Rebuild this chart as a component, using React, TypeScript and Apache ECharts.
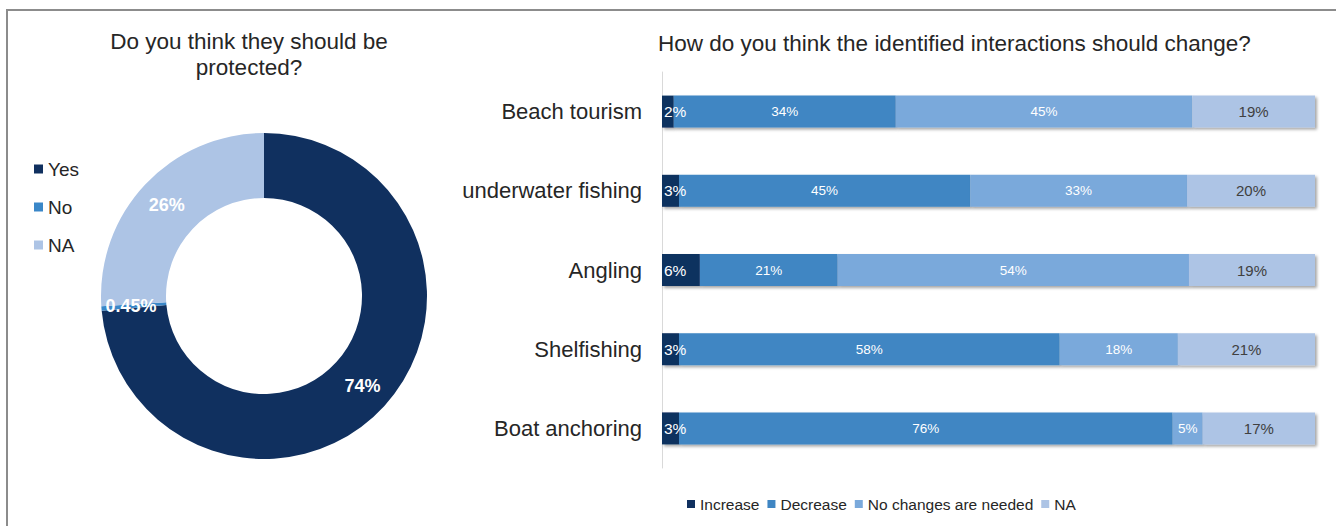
import React, { useEffect, useRef } from "react";
import * as echarts from "echarts";

const pieNames = ["Yes", "No", "NA"];
const pieValues = [73.55, 0.45, 26];
const pieLabels = ["74%", "0.45%", "26%"];
const pieColors = ["#10305f", "#3a87c8", "#adc4e5"];

const categories = ["Beach tourism", "underwater fishing", "Angling", "Shelfishing", "Boat anchoring"];
const seriesNames = ["Increase", "Decrease", "No changes are needed", "NA"];
const increase = [1.8, 2.6, 5.8, 2.6, 2.6];
const decrease = [34, 44.6, 21.1, 58.3, 75.6];
const noChange = [45.4, 33.2, 53.8, 18.1, 4.6];
const notAnswered = [18.8, 19.6, 19.3, 21.0, 17.2];
const barColors = ["#10305f", "#3f86c3", "#7aa9db", "#adc4e5"];

const SANS = '"Liberation Sans", Arial, sans-serif';

export default function App() {
  const ref = useRef<HTMLDivElement>(null);
  useEffect(() => {
    document.body.style.margin = "0";
    const chart = echarts.init(ref.current!, null, { renderer: "svg" });
    const barData = [increase, decrease, noChange, notAnswered];
    const labelSizes = [15.5, 13.5, 13.5, 15];
    const labelColors = ["#ffffff", "#ffffff", "#ffffff", "#404040"];
    const shadow = {
      shadowColor: "rgba(0,0,0,0.35)",
      shadowBlur: 3,
      shadowOffsetX: 2,
      shadowOffsetY: 2,
    };
    chart.setOption({
      animation: false,
      backgroundColor: "#ffffff",
      title: [
        {
          text: "Do you think they should be\nprotected?",
          left: 244,
          top: 23,
          textAlign: "center",
          textStyle: { fontFamily: SANS, fontSize: 22.5, fontWeight: "normal", color: "#262626", lineHeight: 26 },
        },
        {
          text: "How do you think the identified interactions should change?",
          left: 653,
          top: 27,
          textStyle: { fontFamily: SANS, fontSize: 22.5, fontWeight: "normal", color: "#262626" },
        },
      ],
      legend: [
        {
          data: pieNames,
          orient: "vertical",
          left: 29,
          top: 154,
          itemWidth: 9,
          itemHeight: 9,
          itemGap: 18,
          icon: "rect",
          selectedMode: false,
          textStyle: { fontFamily: SANS, fontSize: 19, color: "#262626", lineHeight: 20 },
        },
        {
          data: seriesNames,
          orient: "horizontal",
          left: 682,
          top: 491,
          itemWidth: 8,
          itemHeight: 8,
          itemGap: 8,
          icon: "rect",
          selectedMode: false,
          textStyle: { fontFamily: SANS, fontSize: 15.5, color: "#262626" },
        },
      ],
      grid: { left: 662, right: 21, top: 72, height: 396, containLabel: false },
      xAxis: { type: "value", min: 0, max: 100, show: false },
      yAxis: {
        type: "category",
        data: categories,
        inverse: true,
        axisLine: { show: true, lineStyle: { color: "#d9d9d9", width: 1 } },
        axisTick: { show: false },
        axisLabel: { fontFamily: SANS, fontSize: 22, color: "#262626", margin: 20 },
      },
      series: [
        {
          name: "Pie",
          type: "pie",
          center: [264, 296],
          radius: [98, 163],
          startAngle: 90,
          clockwise: true,
          avoidLabelOverlap: false,
          label: {
            show: true,
            position: "inside",
            fontFamily: SANS,
            fontSize: 18,
            fontWeight: "bold",
            color: "#ffffff",
            formatter: (p: any) => pieLabels[p.dataIndex],
          },
          labelLine: { show: false },
          data: pieNames.map((n, i) => ({ name: n, value: pieValues[i], itemStyle: { color: pieColors[i] } })),
        },
        ...seriesNames.map((name, si) => ({
          name,
          type: "bar",
          stack: "total",
          barWidth: 32,
          data: barData[si],
          itemStyle: { color: barColors[si], ...shadow },
          label: {
            show: true,
            position: si === 0 ? "insideLeft" : "inside",
            distance: si === 0 ? 2 : 5,
            fontFamily: SANS,
            fontSize: labelSizes[si],
            color: labelColors[si],
            formatter: (p: any) => Math.round(p.value) + "%",
          },
        })),
      ],
      graphic: [
        {
          type: "rect",
          shape: { x: 7, y: 10, width: 1400, height: 600 },
          style: { fill: "none", stroke: "#8c8c8c", lineWidth: 2 },
          silent: true,
        },
      ],
    });
    return () => chart.dispose();
  }, []);
  return <div ref={ref} style={{ position: "absolute", left: 0, top: 0, width: 1336, height: 526 }} />;
}
